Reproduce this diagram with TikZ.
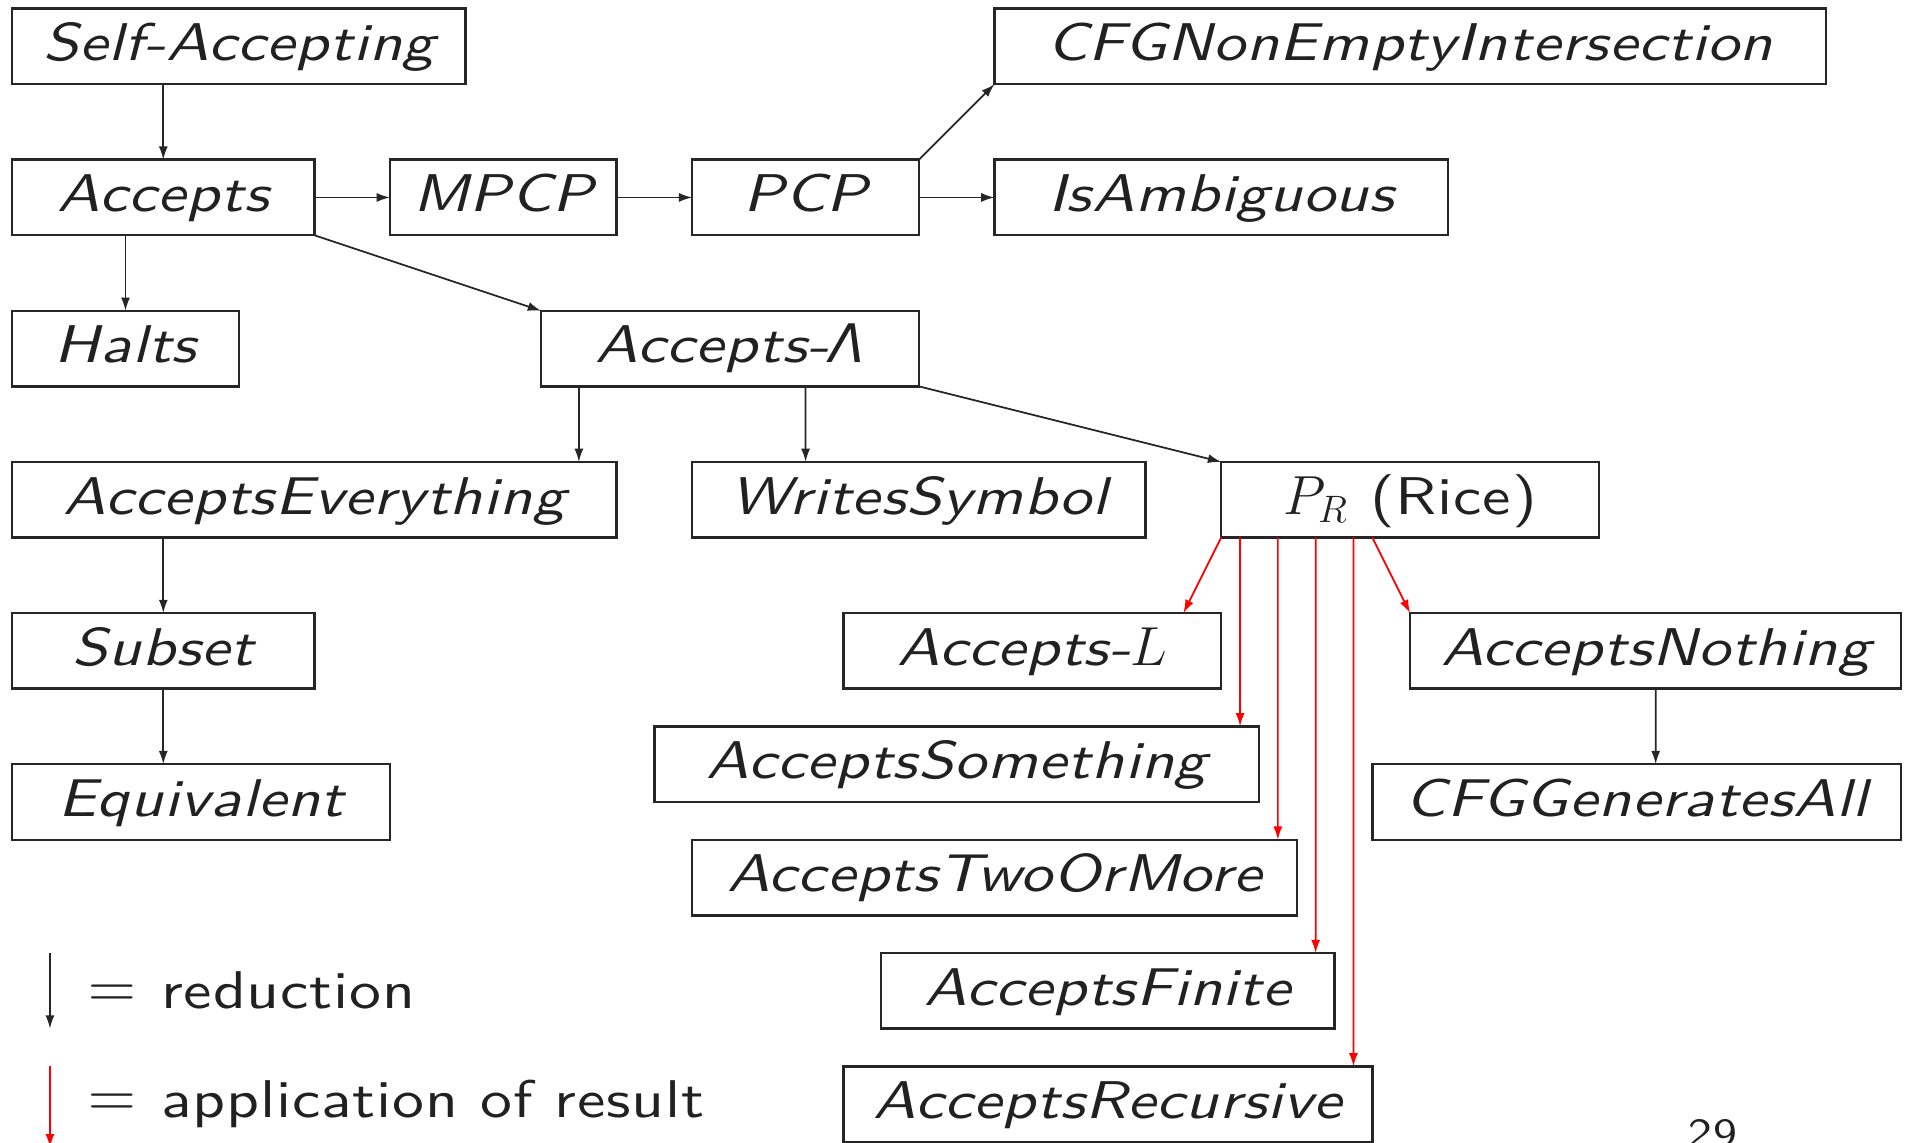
\documentclass[tikz,border=0pt]{standalone}
\usepackage{fontspec}
\newfontfamily\heros{TeX Gyre Heros}
\newfontfamily\slidesans{lmsans10-regular.otf}[ItalicFont=lmsans10-oblique.otf, FakeStretch=1.2, LetterSpace=1.5]
\usetikzlibrary{arrows.meta}
\newcommand{\slidefont}{\fontsize{20}{24}\selectfont\slidesans}
\tikzset{
  box/.style={draw=black!85, line width=0.9pt, inner sep=0pt, outer sep=0pt,
    minimum height=1cm, anchor=north west, text=black!87,
    text height=0.43cm, text depth=0.05cm,
    font=\slidefont\itshape},
  blkarr/.style={-{Latex[length=5pt,width=3.4pt]}, line width=0.65pt, draw=black!85},
  redarr/.style={-{Latex[length=5pt,width=3.4pt]}, line width=0.65pt, draw=red},
  legend/.style={anchor=base west, inner sep=0pt, text=black!87,
    font=\slidefont},
}
\begin{document}
\begin{tikzpicture}
\useasboundingbox (-0.161,0.113) rectangle (25.129,-15.001);
% row 0
\node[box, minimum width=6cm]  (sa)   at (0,0)    {Self-Accepting};
\node[box, minimum width=11cm] (cfg)  at (13,0)   {CFGNonEmptyIntersection};
% row 2
\node[box, minimum width=4cm]  (acc)  at (0,-2)   {Accepts};
\node[box, minimum width=3cm]  (mpcp) at (5,-2)   {MPCP};
\node[box, minimum width=3cm]  (pcp)  at (9,-2)   {PCP};
\node[box, minimum width=6cm]  (amb)  at (13,-2)  {IsAmbiguous};
% row 4
\node[box, minimum width=3cm]  (halts) at (0,-4)  {Halts};
\node[box, minimum width=5cm]  (al)   at (7,-4)   {Accepts-{\heros\itshape Λ}};
% row 6
\node[box, minimum width=8cm]  (ae)   at (0,-6)   {AcceptsEverything};
\node[box, minimum width=6cm]  (ws)   at (9,-6)   {WritesSymbol};
\node[box, minimum width=5cm]  (pr)   at (16,-6)  {$P_R$ \upshape(Rice)};
% lower rows
\node[box, minimum width=4cm]  (sub)  at (0,-8)   {Subset};
\node[box, minimum width=5cm]  (equ)  at (0,-10)  {Equivalent};
\node[box, minimum width=5cm]  (accl) at (11,-8)  {Accepts-$L$};
\node[box, minimum width=6.5cm] (anoth) at (18.5,-8) {AcceptsNothing};
\node[box, minimum width=8cm]  (asome) at (8.5,-9.5) {AcceptsSomething};
\node[box, minimum width=7cm]  (cfgall) at (18,-10) {CFGGeneratesAll};
\node[box, minimum width=8cm]  (atwo) at (9,-11)  {AcceptsTwoOrMore};
\node[box, minimum width=6cm]  (afin) at (11.5,-12.5) {AcceptsFinite};
\node[box, minimum width=7cm]  (arec) at (11,-14) {AcceptsRecursive};
% reductions
\draw[blkarr] ([xshift=2cm]sa.south west) -- ([xshift=2cm]acc.north west);
\draw[blkarr] (acc.east) -- (mpcp.west);
\draw[blkarr] (mpcp.east) -- (pcp.west);
\draw[blkarr] (pcp.east) -- (amb.west);
\draw[blkarr] (pcp.north east) -- (cfg.south west);
\draw[blkarr] ([xshift=1.5cm]acc.south west) -- ([xshift=1.5cm]halts.north west);
\draw[blkarr] (acc.south east) -- (al.north west);
\draw[blkarr] ([xshift=0.5cm]al.south west) -- ([xshift=7.5cm]ae.north west);
\draw[blkarr] ([xshift=3.5cm]al.south west) -- ([xshift=1.5cm]ws.north west);
\draw[blkarr] (al.south east) -- (pr.north west);
\draw[blkarr] ([xshift=2cm]ae.south west) -- ([xshift=2cm]sub.north west);
\draw[blkarr] ([xshift=2cm]sub.south west) -- ([xshift=2cm]equ.north west);
\draw[blkarr] ([xshift=3.25cm]anoth.south west) -- ([xshift=3.75cm]cfgall.north west);
% applications of Rice
\draw[redarr] (pr.south west) -- ([xshift=-0.5cm]accl.north east);
\draw[redarr] ([xshift=0.25cm]pr.south west) -- ([xshift=-0.25cm]asome.north east);
\draw[redarr] ([xshift=0.75cm]pr.south west) -- ([xshift=-0.25cm]atwo.north east);
\draw[redarr] ([xshift=1.25cm]pr.south west) -- ([xshift=-0.25cm]afin.north east);
\draw[redarr] ([xshift=1.75cm]pr.south west) -- ([xshift=-0.25cm]arec.north east);
\draw[redarr] ([xshift=2cm]pr.south west) -- (anoth.north west);
% legend
\coordinate (l1a) at (0.5,-12.5);
\coordinate (l1b) at (0.5,-13.5);
\coordinate (l2a) at (0.5,-14);
\coordinate (l2b) at (0.5,-15.07);
\draw[blkarr] (l1a) -- (l1b);
\draw[redarr] (l2a) -- (l2b);
\node[legend] (lt1) at (1.0,-13.23) {{\fontsize{25}{28}\selectfont$=$}\hspace{0.48em}reduction};
\node[legend] (lt2) at (1.0,-14.68) {{\fontsize{25}{28}\selectfont$=$}\hspace{0.48em}application of result};
\node[anchor=base west, inner sep=0pt, text=black!87,
  font=\fontsize{15}{18}\selectfont\slidesans] (pg) at (22.18,-15.06) {29};
\end{tikzpicture}
\end{document}
